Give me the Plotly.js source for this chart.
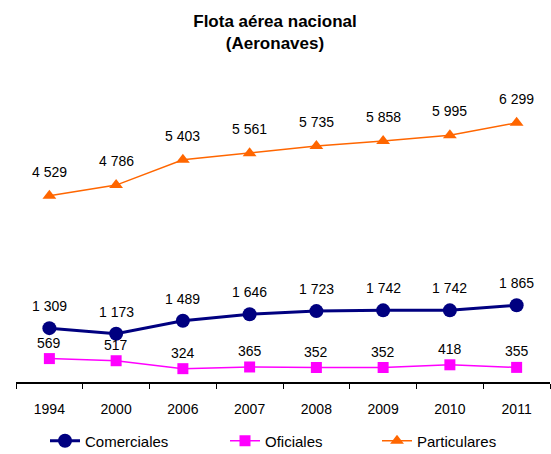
<!DOCTYPE html>
<html>
<head>
<meta charset="utf-8">
<script src="https://cdn.plot.ly/plotly-3.0.1.min.js"></script>
<style>html,body{margin:0;padding:0;background:#fff}#chart{width:551px;height:454px}</style>
</head>
<body>
<div id="chart"></div>
<script>
const years = ['1994','2000','2006','2007','2008','2009','2010','2011'];
const comerciales = [1309, 1173, 1489, 1646, 1723, 1742, 1742, 1865];
const oficiales = [569, 517, 324, 365, 352, 352, 418, 355];
const particulares = [4529, 4786, 5403, 5561, 5735, 5858, 5995, 6299];

function fmt(v){ return String(v).replace(/\B(?=(\d{3})+(?!\d))/g, ' '); }

const FAM = 'Liberation Sans, Arial, sans-serif';
const font = {family: FAM, size: 14, color: '#000'};
const legFont = {family: FAM, size: 15, color: '#000'};

const traces = [
  {x: years, y: comerciales, name: 'Comerciales', type: 'scatter', mode: 'lines+markers', legend: 'legend',
   line: {color: '#000080', width: 3}, marker: {symbol: 'circle', size: 14, color: '#000080'}},
  {x: years, y: oficiales, name: 'Oficiales', type: 'scatter', mode: 'lines+markers', legend: 'legend2',
   line: {color: '#FF00FF', width: 1.5}, marker: {symbol: 'square', size: 11, color: '#FF00FF'}},
  {x: years, y: particulares, name: 'Particulares', type: 'scatter', mode: 'lines+markers', legend: 'legend3',
   line: {color: '#FF6600', width: 1.5}, marker: {symbol: 'triangle-up', size: 12, color: '#FF6600'}}
];

const annotations = [];
function addLabels(vals, shift){
  // x given as the category index (numeric-looking category names are read as numbers by annotations)
  vals.forEach((v, i) => annotations.push({x: years.indexOf(years[i]), y: v, xref: 'x', yref: 'y', text: fmt(v), showarrow: false,
    yshift: shift, font: font, xanchor: 'center', yanchor: 'middle'}));
}
addLabels(comerciales, 22);
addLabels(oficiales, 16);
addLabels(particulares, 24);

function leg(xpx){
  return {orientation: 'h', xref: 'container', yref: 'container', x: xpx / 551, xanchor: 'left',
          y: 13 / 454, yanchor: 'middle', font: legFont, bgcolor: 'rgba(0,0,0,0)', borderwidth: 0};
}

const layout = {
  width: 551, height: 454,
  margin: {l: 16, r: 1, t: 94, b: 72, autoexpand: false},
  paper_bgcolor: '#fff', plot_bgcolor: '#fff',
  font: font,
  title: {text: '<b>Flota aérea nacional<br>(Aeronaves)</b>', font: {family: FAM, size: 17, color: '#000'},
          xref: 'container', yref: 'container', x: 275 / 551, xanchor: 'center', y: 1 - 27 / 454, yanchor: 'middle'},
  xaxis: {type: 'category', range: [-0.5, 7.5], showline: true, linecolor: '#000', linewidth: 1.5,
          ticks: 'outside', tickson: 'boundaries', ticklen: 5, tickcolor: '#000', tickwidth: 1,
          ticklabelstandoff: 14,
          showgrid: false, zeroline: false, tickfont: font, fixedrange: true},
  yaxis: {range: [0, 7000], showticklabels: false, showgrid: false, zeroline: false, showline: false, ticks: '', fixedrange: true},
  showlegend: true,
  legend: leg(45),
  legend2: leg(225),
  legend3: leg(377),
  annotations: annotations
};

Plotly.newPlot('chart', traces, layout, {displayModeBar: false, staticPlot: true});
</script>
</body>
</html>
